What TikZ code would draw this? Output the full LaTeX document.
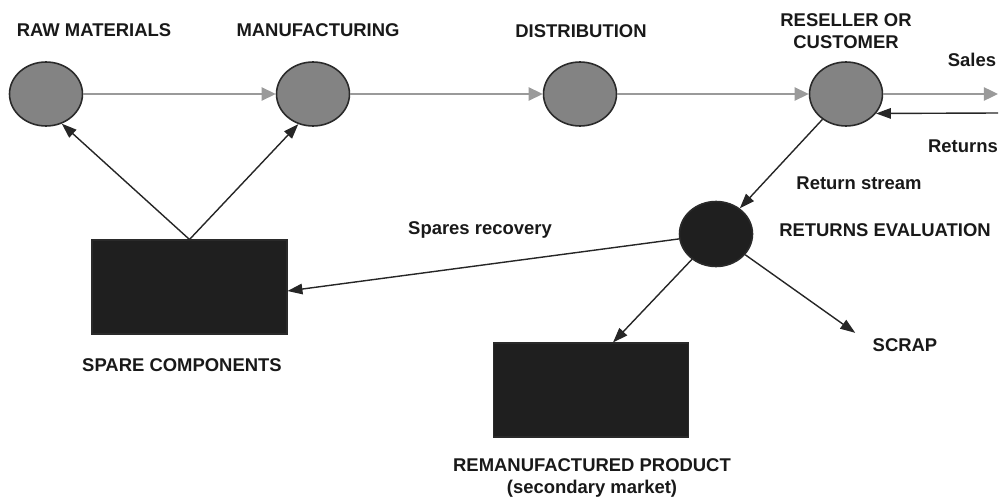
\documentclass[tikz,border=0pt]{standalone}
\usepackage{fontspec}
\setmainfont{Liberation Sans}
\usetikzlibrary{shapes.geometric,arrows.meta}
\definecolor{dkfill}{HTML}{1F1F1F}
\definecolor{grayfill}{HTML}{838383}
\definecolor{grayline}{HTML}{9A9A9A}
\definecolor{edge}{HTML}{2A2A2A}
\tikzset{
  stage/.style={ellipse, draw=edge, line width=0.9pt, fill=grayfill, minimum width=1.46cm, minimum height=1.28cm, inner sep=0pt},
  evalnode/.style={ellipse, draw=edge, line width=0.9pt, fill=dkfill, minimum width=1.46cm, minimum height=1.3cm, inner sep=0pt},
  blackbox/.style={rectangle, draw=edge, line width=0.6pt, fill=dkfill, minimum width=3.9cm, minimum height=1.88cm, inner sep=0pt},
  lbl/.style={inner sep=0pt, font=\fontsize{10.5}{12.5}\selectfont\bfseries, align=center, text=black!90},
  flow/.style={draw=grayline, line width=1.1pt, -{Triangle[length=8pt,width=7.5pt]}, grayline},
  blk/.style={draw=black!85, line width=0.8pt, -{Triangle[length=8.5pt,width=6pt]}}
}
\begin{document}
\begin{tikzpicture}[x=0.02cm,y=-0.02cm]
\useasboundingbox (0,0) rectangle (1000,500);
% stages
\node[stage] (raw) at (46,94) {};
\node[stage] (man) at (313,94) {};
\node[stage] (dis) at (580,94) {};
\node[stage] (res) at (846,94) {};
\node[evalnode] (ev) at (716,234) {};
\node[blackbox] (spare) at (189.5,287) {};
\node[blackbox] (reman) at (591,390) {};
% labels
\node[lbl] (lraw) at (94,30) {RAW MATERIALS};
\node[lbl] (lman) at (318,30) {MANUFACTURING};
\node[lbl] (ldis) at (581,31) {DISTRIBUTION};
\node[lbl] (lres) at (846,31) {RESELLER OR\\CUSTOMER};
\node[lbl] (lsales) at (972,60) {Sales};
\node[lbl] (lreturns) at (963,146) {Returns};
\node[lbl] (lrs) at (859,183) {Return stream};
\node[lbl] (lev) at (885,230) {RETURNS EVALUATION};
\node[lbl] (lsr) at (480,230) {Spares recovery};
\node[lbl] (lspare) at (182,365) {SPARE COMPONENTS};
\node[lbl] (scrap) at (905,345) {SCRAP};
\node[lbl] (lreman) at (592,478) {REMANUFACTURED PRODUCT\\(secondary market)};
% coordinates
\coordinate (salesend) at (998,94);
\coordinate (retstart) at (998,113);
% forward flow
\draw[flow] (raw) -- (man);
\draw[flow] (man) -- (dis);
\draw[flow] (dis) -- (res);
\draw[flow] (res.east) -- (salesend);
% returns
\draw[blk] (retstart) -- (res.-33);
\draw[blk] (res) -- (ev);
\draw[blk] (ev) -- ([yshift=-0.08cm]spare.east);
\draw[blk] (ev) -- ([xshift=0.44cm]reman.north);
\draw[blk, shorten >=0.42cm] (ev) -- (scrap.west);
\draw[blk] (spare.north) -- (raw.-62);
\draw[blk] (spare.north) -- (man.-116);
\end{tikzpicture}
\end{document}
